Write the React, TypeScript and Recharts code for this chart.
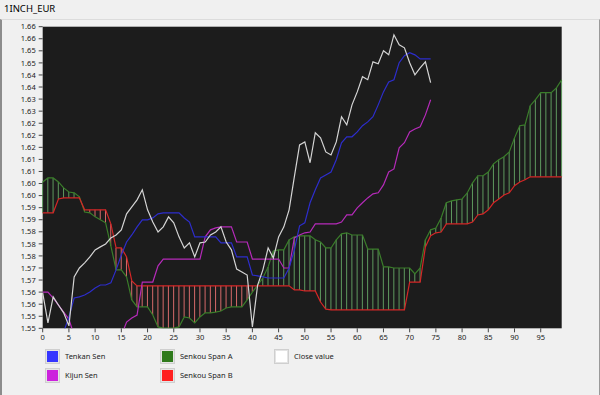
import { Bar, Cell, CartesianGrid, ComposedChart, Line, XAxis, YAxis } from "recharts";

// Close, Tenkan and Kijun run over 75 periods; the Senkou spans are shifted 26 ahead (100 points).
const closeValues = [
  1.5618, 1.5507, 1.5603, 1.5573, 1.5544, 1.5496, 1.5677, 1.571, 1.5729, 1.5751,
  1.5777, 1.5788, 1.5799, 1.5821, 1.5832, 1.5851, 1.591, 1.5936, 1.5962, 1.5999,
  1.5925, 1.588, 1.5843, 1.5862, 1.5899, 1.5877, 1.5825, 1.5784, 1.5803, 1.5751,
  1.5803, 1.5806, 1.5832, 1.5843, 1.5862, 1.5806, 1.5777, 1.5706, 1.5695, 1.5684,
  1.5492, 1.5647, 1.5703, 1.5784, 1.5747, 1.5825, 1.5862, 1.5925, 1.6047, 1.6165,
  1.6176, 1.6099, 1.621, 1.6191, 1.6139, 1.6128, 1.6176, 1.6269, 1.6239, 1.6313,
  1.6361, 1.6417, 1.6406, 1.6472, 1.6465, 1.6513, 1.6498, 1.6572, 1.6535, 1.6524,
  1.6469, 1.6424, 1.645, 1.6472, 1.6395,
];

const tenkanSen = [
  1.545, 1.545, 1.545, 1.545, 1.5473, 1.5529, 1.5599, 1.5603, 1.561, 1.5621,
  1.5636, 1.5647, 1.5647, 1.5655, 1.5703, 1.5758, 1.5806, 1.5832, 1.5862, 1.5888,
  1.5888, 1.5895, 1.591, 1.5914, 1.5914, 1.5914, 1.5914, 1.5895, 1.588, 1.5825,
  1.5825, 1.5825, 1.5825, 1.5825, 1.5803, 1.5803, 1.5803, 1.5751, 1.5751, 1.5751,
  1.5684, 1.5681, 1.5677, 1.5673, 1.5673, 1.5673, 1.5673, 1.571, 1.5777, 1.5866,
  1.5877, 1.5951, 1.5999, 1.6043, 1.6054, 1.6065, 1.611, 1.6173, 1.6195, 1.6195,
  1.6213, 1.6236, 1.625, 1.6269, 1.6313, 1.6361, 1.6398, 1.6406, 1.6469, 1.6495,
  1.6506, 1.6498, 1.6483, 1.6483, 1.6483,
];

const kijunSen = [
  1.5621, 1.5621, 1.5599, 1.5573, 1.5547, 1.5521, 1.546, 1.545, 1.545, 1.545,
  1.545, 1.545, 1.545, 1.545, 1.545, 1.546, 1.551, 1.5525, 1.5536, 1.5658,
  1.5658, 1.5658, 1.5718, 1.5743, 1.5743, 1.5743, 1.5743, 1.5743, 1.5743, 1.5743,
  1.5743, 1.5825, 1.5851, 1.5858, 1.5862, 1.5862, 1.5862, 1.5806, 1.5806, 1.5806,
  1.5743, 1.5743, 1.5743, 1.5743, 1.5743, 1.5743, 1.571, 1.571, 1.5821, 1.5832,
  1.584, 1.5843, 1.5873, 1.5873, 1.5873, 1.5873, 1.5873, 1.588, 1.5906, 1.5906,
  1.5932, 1.5951, 1.5969, 1.5984, 1.5988, 1.6017, 1.6065, 1.6076, 1.6154, 1.6173,
  1.6213, 1.6224, 1.6232, 1.6276, 1.6332,
];

const senkouSpanA = [
  1.6028, 1.6043, 1.6043, 1.6028, 1.6006, 1.5991, 1.5988, 1.5973, 1.5917, 1.5914,
  1.5899, 1.5888, 1.5877, 1.5792, 1.5703, 1.5703, 1.5677, 1.5592, 1.5566, 1.5566,
  1.5566, 1.5536, 1.5492, 1.5488, 1.5488, 1.5488, 1.5492, 1.5529, 1.5525, 1.5507,
  1.5529, 1.5544, 1.5544, 1.5547, 1.5551, 1.5562, 1.5566, 1.5566, 1.5566, 1.5592,
  1.5621, 1.5647, 1.5673, 1.5714, 1.5773, 1.5777, 1.5777, 1.5814, 1.5825, 1.5829,
  1.5829, 1.5829, 1.5814, 1.5806, 1.5784, 1.5784, 1.5814, 1.5836, 1.584, 1.5832,
  1.5832, 1.5832, 1.578, 1.578, 1.578, 1.5714, 1.5714, 1.571, 1.571, 1.571,
  1.571, 1.5688, 1.571, 1.5814, 1.5851, 1.5858, 1.5895, 1.5951, 1.5958, 1.5962,
  1.5965, 1.5988, 1.6025, 1.6051, 1.6051, 1.6065, 1.6095, 1.611, 1.6121, 1.6139,
  1.6191, 1.6236, 1.6239, 1.631, 1.6332, 1.6358, 1.6358, 1.6358, 1.6376, 1.6406,
];

const senkouSpanB = [
  1.5914, 1.5914, 1.5914, 1.5965, 1.5969, 1.5969, 1.5969, 1.5969, 1.5925, 1.5925,
  1.5925, 1.5925, 1.5925, 1.5873, 1.5784, 1.5784, 1.5751, 1.5662, 1.5644, 1.5644,
  1.5644, 1.5644, 1.5644, 1.5644, 1.5644, 1.5644, 1.5644, 1.5644, 1.5644, 1.5644,
  1.5644, 1.5644, 1.5644, 1.5644, 1.5644, 1.5644, 1.5644, 1.5644, 1.5644, 1.5644,
  1.5644, 1.5644, 1.5644, 1.5644, 1.5644, 1.5644, 1.5644, 1.5644, 1.5629, 1.5629,
  1.5625, 1.5625, 1.5625, 1.5584, 1.5558, 1.5555, 1.5555, 1.5555, 1.5555, 1.5555,
  1.5555, 1.5555, 1.5555, 1.5555, 1.5555, 1.5555, 1.5555, 1.5555, 1.5555, 1.5555,
  1.5658, 1.5658, 1.5658, 1.5788, 1.5829, 1.584, 1.5843, 1.5873, 1.5873, 1.5873,
  1.5873, 1.5873, 1.588, 1.5906, 1.591, 1.5925, 1.5951, 1.5965, 1.598, 1.5988,
  1.6014, 1.6028, 1.6036, 1.6047, 1.6047, 1.6047, 1.6047, 1.6047, 1.6047, 1.6047,
];

const xTicks = [0, 5, 10, 15, 20, 25, 30, 35, 40, 45, 50, 55, 60, 65, 70, 75, 80, 85, 90, 95];
const yTicks = [
  1.5487, 1.55316, 1.55762, 1.56208, 1.56654, 1.571, 1.57546, 1.57992, 1.58438, 1.58884,
  1.5933, 1.59776, 1.60222, 1.60668, 1.61114, 1.6156, 1.62006, 1.62452, 1.62898, 1.63344,
  1.6379, 1.64236, 1.64682, 1.65128, 1.65574, 1.6602,
];

const legendItems = [
  { label: "Tenkan Sen", color: "#3535ff", left: 45, top: 349 },
  { label: "Kijun Sen", color: "#cc22dd", left: 45, top: 368 },
  { label: "Senkou Span A", color: "#2f7a1c", left: 160, top: 349 },
  { label: "Senkou Span B", color: "#ff2020", left: 160, top: 368 },
  { label: "Close value", color: "#ffffff", left: 274, top: 349 },
];

const font = "'Noto Sans', 'Open Sans', sans-serif";

const rows = senkouSpanA.map((a, i) => {
  const b = senkouSpanB[i];
  return {
    x: i,
    close: i < closeValues.length ? closeValues[i] : null,
    tenkan: i < tenkanSen.length ? tenkanSen[i] : null,
    kijun: i < kijunSen.length ? kijunSen[i] : null,
    spanA: a,
    spanB: b,
    cloud: [Math.min(a, b), Math.max(a, b)],
  };
});

export default function App() {
  return (
    <div
      style={{
        position: "absolute",
        left: 0,
        top: 0,
        width: 600,
        height: 395,
        background: "#f0f0f0",
        fontFamily: font,
        overflow: "hidden",
      }}
    >
      <div style={{ position: "absolute", left: 4, top: 2, fontSize: 9.5, color: "#000" }}>1INCH_EUR</div>
      <div
        style={{
          position: "absolute",
          left: 0,
          top: 19,
          width: 597,
          height: 380,
          borderLeft: "2px solid #8c8c8c",
          borderRight: "1px solid #9a9a9a",
          borderTop: "1px solid #dcdcdc",
        }}
      />
      <div style={{ position: "absolute", left: 0, top: 0 }}>
        <ComposedChart
          width={600}
          height={350}
          data={rows}
          margin={{ top: 26.7, right: 38.3, bottom: 1.7, left: 0.7 }}
        >
          <CartesianGrid horizontal={false} vertical={false} fill="#1c1c1c" />
          <XAxis
            dataKey="x"
            type="number"
            domain={[0, 99]}
            ticks={xTicks}
            interval={0}
            height={20}
            tickSize={4}
            tickMargin={2}
            axisLine={false}
            tickLine={{ stroke: "#444" }}
            tick={{ fill: "#222", fontSize: 7.5, fontFamily: font }}
          />
          <YAxis
            type="number"
            domain={[1.5487, 1.6602]}
            allowDataOverflow
            ticks={yTicks}
            interval={0}
            width={42}
            tickSize={4}
            tickMargin={3}
            axisLine={false}
            tickLine={{ stroke: "#444" }}
            tick={{ fill: "#222", fontSize: 7.5, fontFamily: font }}
            tickFormatter={(v: number) => v.toFixed(2)}
          />
          <Bar dataKey="cloud" barSize={1} isAnimationActive={false}>
            {rows.map((r) => (
              <Cell key={r.x} fill={r.spanA >= r.spanB ? "#5f9a5f" : "#d66a6a"} />
            ))}
          </Bar>
          <Line type="linear" dataKey="spanA" stroke="#3a7d2a" strokeWidth={1.2} dot={false} isAnimationActive={false} />
          <Line type="linear" dataKey="spanB" stroke="#d42626" strokeWidth={1.2} dot={false} isAnimationActive={false} />
          <Line type="linear" dataKey="kijun" stroke="#b52ab9" strokeWidth={1.2} dot={false} isAnimationActive={false} />
          <Line type="linear" dataKey="tenkan" stroke="#2d2dcc" strokeWidth={1.2} dot={false} isAnimationActive={false} />
          <Line type="linear" dataKey="close" stroke="#d4d4d4" strokeWidth={1.2} dot={false} isAnimationActive={false} />
        </ComposedChart>
      </div>
      {legendItems.map((item) => (
        <div key={item.label}>
          <div
            style={{
              position: "absolute",
              left: item.left,
              top: item.top,
              width: 13,
              height: 13,
              background: item.color,
              border: "1px solid #cfcfcf",
              boxShadow: "inset 0 0 0 1px #e4e4e4",
            }}
          />
          <div
            style={{
              position: "absolute",
              left: item.left + 20,
              top: item.top + 1,
              fontSize: 7.5,
              color: "#222",
              lineHeight: "12px",
            }}
          >
            {item.label}
          </div>
        </div>
      ))}
    </div>
  );
}
